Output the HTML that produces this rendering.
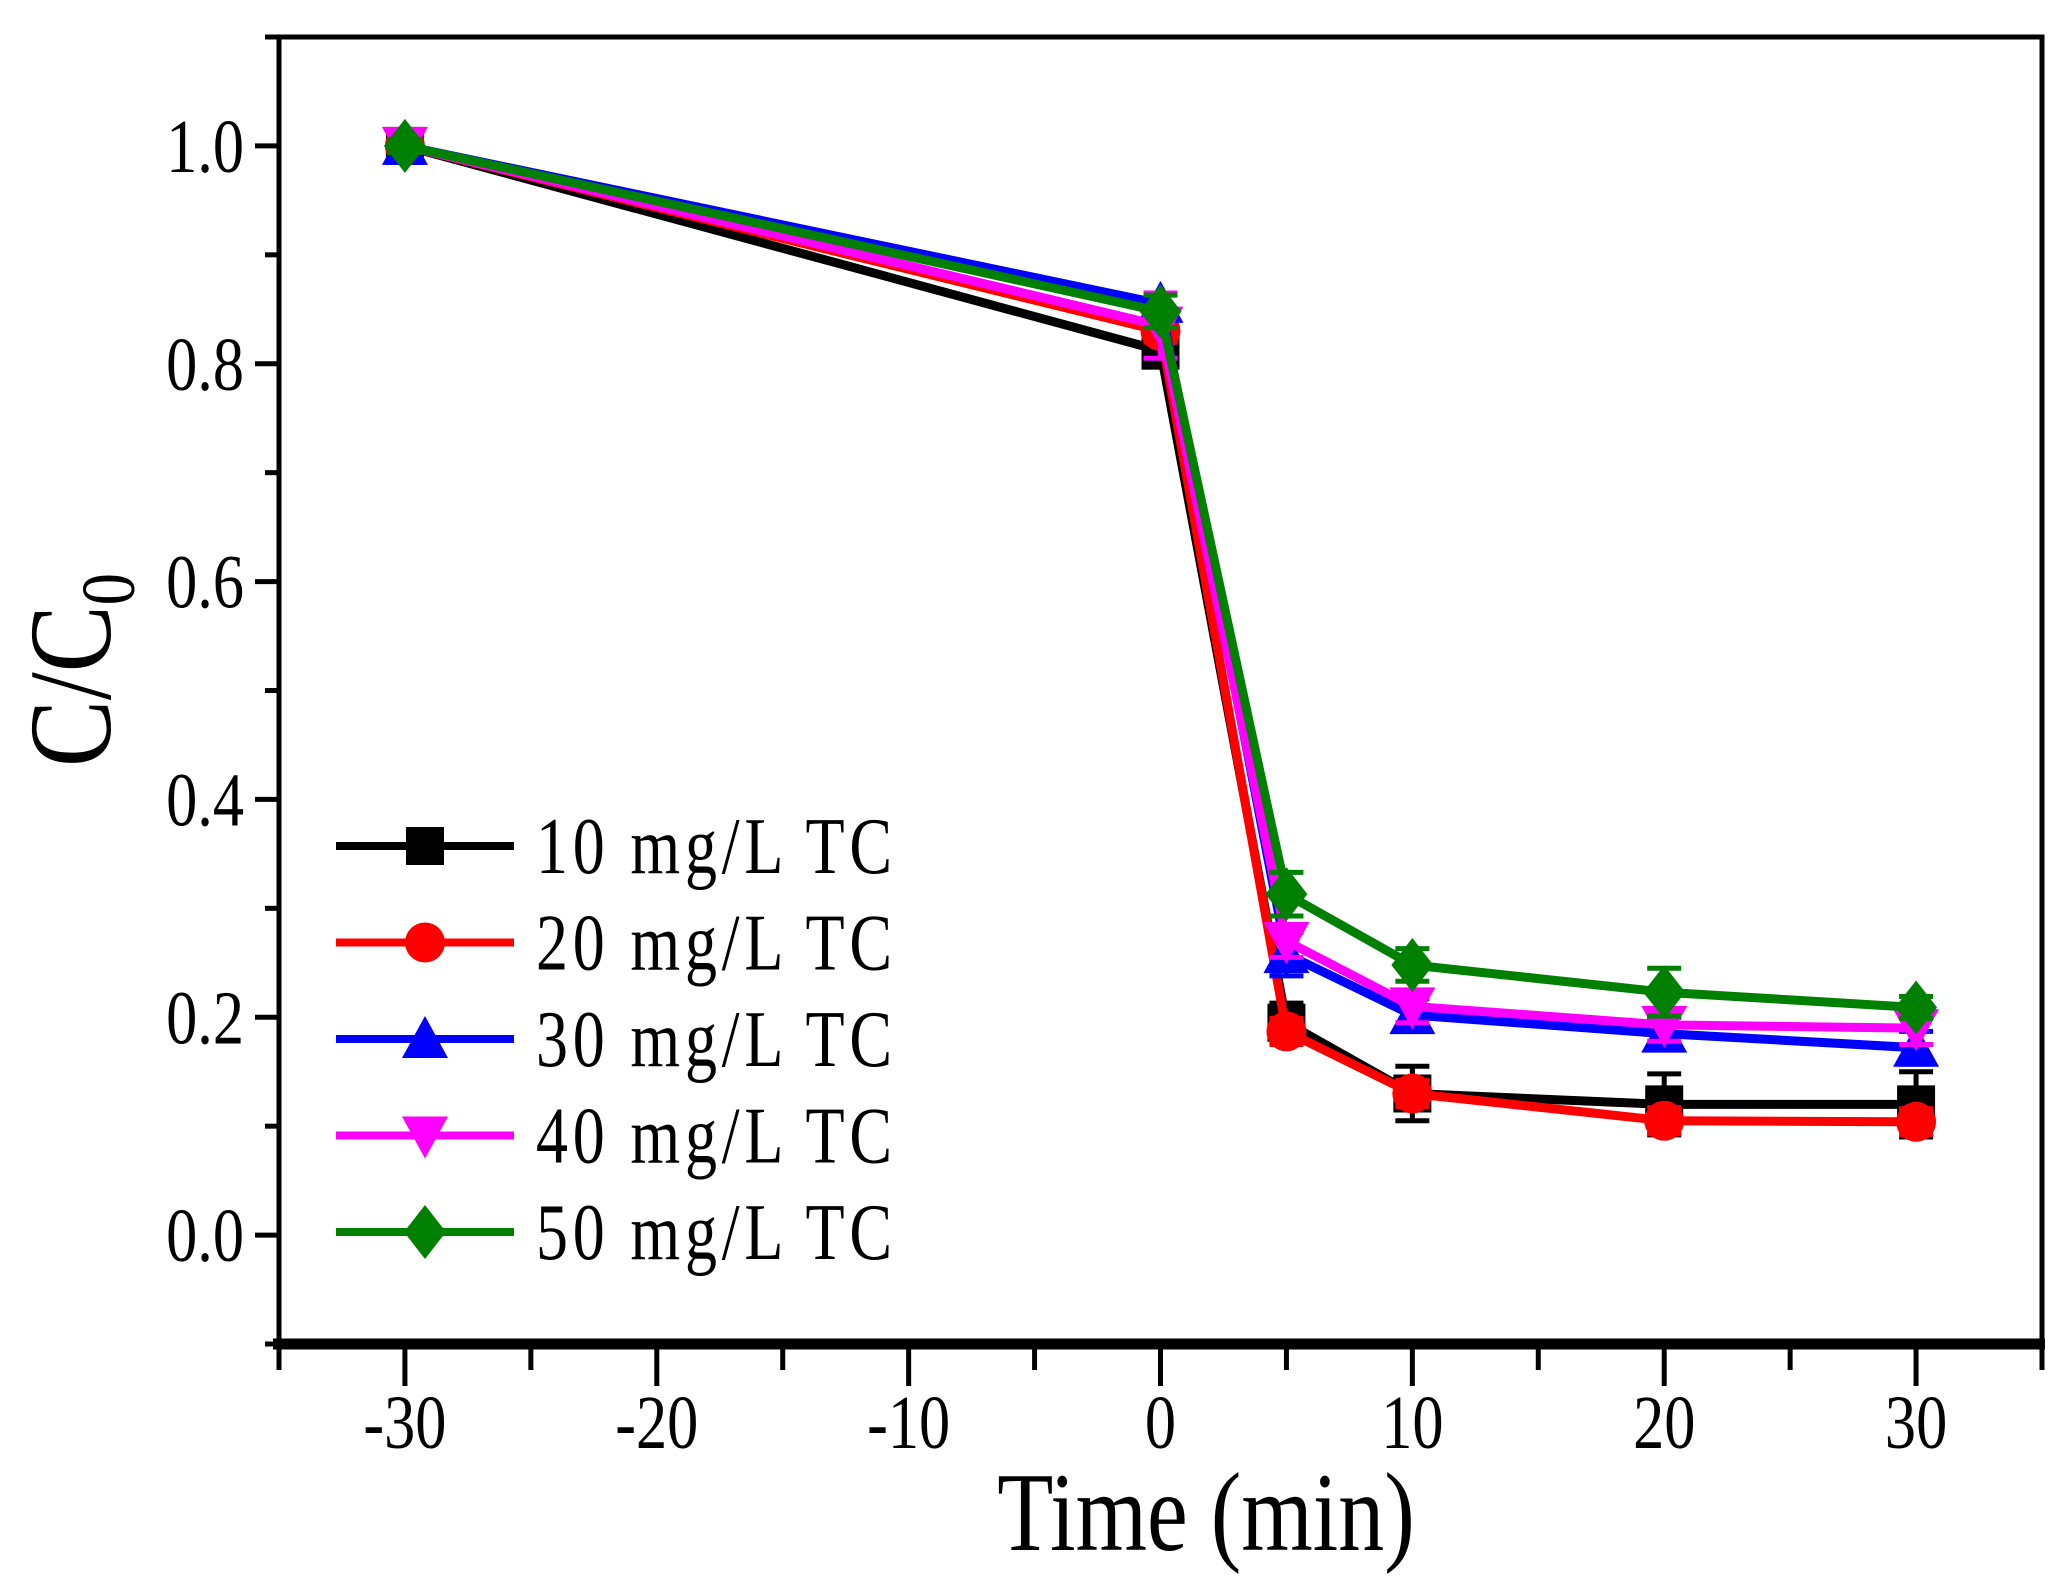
<!DOCTYPE html>
<html><head><meta charset="utf-8"><style>
html,body{margin:0;padding:0;background:#fff;}
svg{display:block;font-family:"Liberation Serif",serif;}
</style></head><body>
<svg id="chart" width="2066" height="1590" viewBox="0 0 2066 1590" xmlns="http://www.w3.org/2000/svg"></svg>
<script>
const times = [-30, 0, 5, 10, 20, 30];
const seriesNames = ["10 mg/L TC","20 mg/L TC","30 mg/L TC","40 mg/L TC","50 mg/L TC"];
const s10 = [1.0, 0.812, 0.195, 0.130, 0.120, 0.120];
const s20 = [1.0, 0.830, 0.187, 0.130, 0.105, 0.104];
const s30 = [1.0, 0.855, 0.258, 0.202, 0.185, 0.172];
const s40 = [1.0, 0.835, 0.270, 0.210, 0.193, 0.190];
const s50 = [1.0, 0.848, 0.313, 0.248, 0.223, 0.209];
const e10 = [0.008, 0.010, 0.018, 0.025, 0.028, 0.030];
const e20 = [0.006, 0.010, 0.012, 0.012, 0.012, 0.012];
const e30 = [0.006, 0.010, 0.020, 0.015, 0.015, 0.015];
const e40 = [0.006, 0.030, 0.015, 0.015, 0.015, 0.015];
const e50 = [0.006, 0.015, 0.020, 0.015, 0.022, 0.010];
const xTicks = [-30,-20,-10,0,10,20,30];
const yTicks = [0.0,0.2,0.4,0.6,0.8,1.0];
const yTickLabels = ["0.0","0.2","0.4","0.6","0.8","1.0"];

const svg = document.getElementById('chart');
const NS = "http://www.w3.org/2000/svg";
const L=279,R=2042,T=37,B=1344;
const xMin=-35,xMax=35,yMin=-0.1,yMax=1.1;
const X=v=>L+(v-xMin)/(xMax-xMin)*(R-L);
const Y=v=>B-(v-yMin)/(yMax-yMin)*(B-T);
function mk(tag,attrs,parent){const e=document.createElementNS(NS,tag);for(const k in attrs)e.setAttribute(k,attrs[k]);(parent||svg).appendChild(e);return e;}

const frame=mk('rect',{x:L,y:T,width:R-L,height:B-T,fill:'none',stroke:'#000','stroke-width':5});


const xAxis=mk('line',{x1:L-6,y1:B,x2:R+3,y2:B,stroke:'#000','stroke-width':11});



for(let v=-35;v<=35;v+=5){
  const major=(v%10===0);
  const t=mk('line',{x1:X(v),y1:B,x2:X(v),y2:B+(major?42:26),stroke:'#000','stroke-width':5});
  
  
}
xTicks.forEach(v=>{
  const t=mk('text',{x:0,y:0,'font-size':76,'text-anchor':'middle',transform:`translate(${X(v)},1448) scale(0.82,1)`});
  t.textContent=(v<0?'-':'')+Math.abs(v);
  
  
});
for(let i=-1;i<=11;i++){
  const v=i/10;const major=(i%2===0);
  const t=mk('line',{x1:L,y1:Y(v),x2:L-(major?24:14),y2:Y(v),stroke:'#000','stroke-width':5});
  
  
}
yTicks.forEach((v,i)=>{
  const t=mk('text',{x:0,y:0,'font-size':76,'text-anchor':'end',transform:`translate(244,${Y(v)+26}) scale(0.82,1)`});
  t.textContent=yTickLabels[i];
  
  
});
const xt=mk('text',{x:0,y:0,'font-size':112,'text-anchor':'middle',transform:'translate(1206,1550) scale(0.82,1)'});
xt.textContent='Time (min)';


const yt=mk('text',{x:0,y:0,'font-size':118,'text-anchor':'middle',transform:'translate(110,670) rotate(-90) scale(0.85,1)'});
yt.innerHTML='C/C<tspan font-size="76" dy="24">0</tspan>';



const colors=['#000000','#ff0000','#0000ff','#ff00ff','#008000'];
const shapes=['square','circle','up','down','diamond'];
const data=[s10,s20,s30,s40,s50];
const errs=[e10,e20,e30,e40,e50];
function marker(shape,cx,cy,c,g){
  const r=19;
  if(shape==='square')return mk('rect',{x:cx-r,y:cy-r,width:2*r,height:2*r,fill:c},g);
  if(shape==='circle')return mk('circle',{cx:cx,cy:cy,r:r+1,fill:c},g);
  if(shape==='up')return mk('polygon',{points:`${cx},${cy-r-4} ${cx-r-4},${cy+r} ${cx+r+4},${cy+r}`,fill:c},g);
  if(shape==='down')return mk('polygon',{points:`${cx},${cy+r+4} ${cx-r-4},${cy-r} ${cx+r+4},${cy-r}`,fill:c},g);
  return mk('polygon',{points:`${cx},${cy-r-8} ${cx+r+2},${cy} ${cx},${cy+r+8} ${cx-r-2},${cy}`,fill:c},g);
}
data.forEach((s,si)=>{
  const g=mk('g',{});
  
  
  const c=colors[si];
  const pl=mk('polyline',{points:s.map((v,i)=>X(times[i])+','+Y(v)).join(' '),fill:'none',stroke:c,'stroke-width':9,'stroke-linejoin':'round'},g);
  
  
  s.forEach((v,i)=>{
    const x=X(times[i]),e=errs[si][i];
    const eb=mk('path',{d:`M${x},${Y(v+e)}V${Y(v-e)}M${x-17},${Y(v+e)}H${x+17}M${x-17},${Y(v-e)}H${x+17}`,stroke:c,'stroke-width':5,fill:'none'},g);
    
    
    const m=marker(shapes[si],x,Y(v),c,g);
    
    
  });
});
const lg=mk('g',{});


seriesNames.forEach((n,i)=>{
  const y=846+i*96.5;
  const c=colors[i];
  const g=mk('g',{},lg);
  
  
  mk('line',{x1:336,y1:y,x2:514,y2:y,stroke:c,'stroke-width':8},g);
  marker(shapes[i],425,y,c,g);
  const t=mk('text',{x:0,y:0,'font-size':80,'letter-spacing':'6',transform:`translate(536,${y+27}) scale(0.8,1)`},g);
  t.textContent=n;
});
</script>
</body></html>
